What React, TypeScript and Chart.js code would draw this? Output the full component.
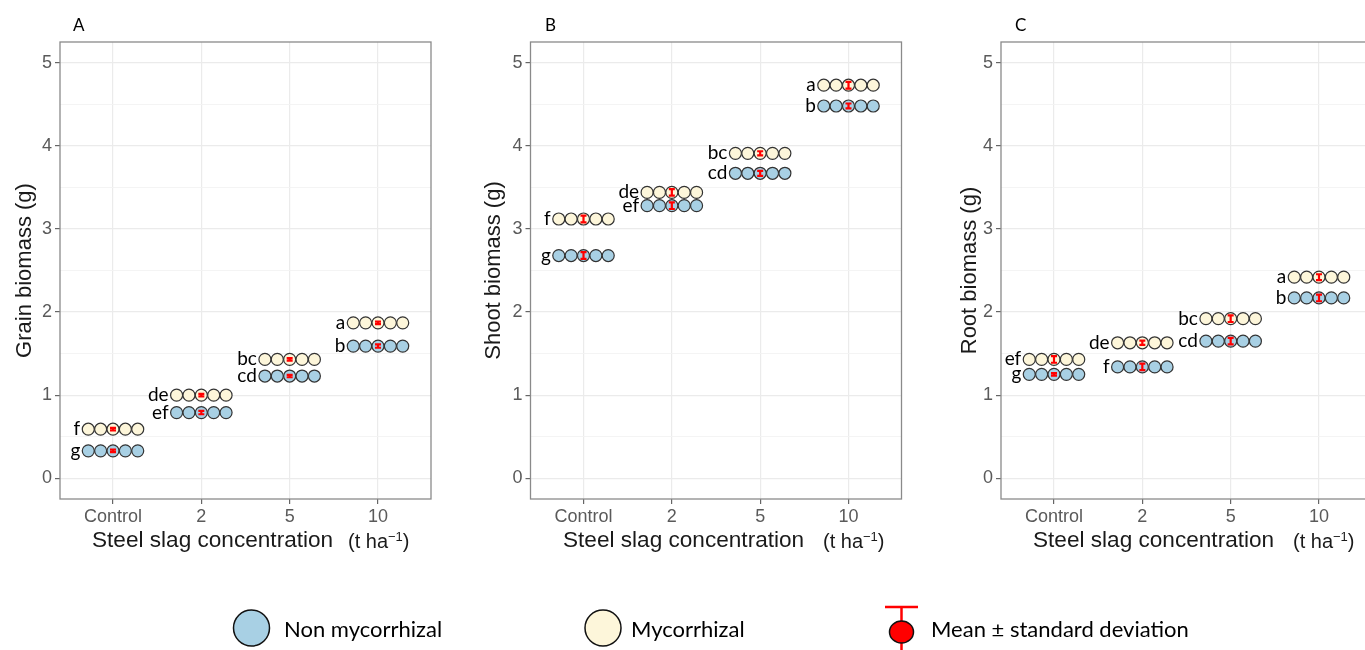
import React, { useEffect, useRef } from "react";
import { Chart, registerables } from "chart.js";

Chart.register(...registerables);

// ---------- data ----------
const categories = ["Control", "2", "5", "10"];
const yTickValues = [0, 0.5, 1, 1.5, 2, 2.5, 3, 3.5, 4, 4.5, 5];
const REPLICATES = 5;

const grainNonMyc = [0.33, 0.79, 1.23, 1.59];
const grainMyc = [0.59, 1.0, 1.43, 1.87];
const grainNonMycSd = [0.015, 0.02, 0.015, 0.02];
const grainMycSd = [0.015, 0.015, 0.015, 0.015];
const grainNonMycLetters = ["g", "ef", "cd", "b"];
const grainMycLetters = ["f", "de", "bc", "a"];

const shootNonMyc = [2.68, 3.28, 3.67, 4.48];
const shootMyc = [3.12, 3.44, 3.91, 4.73];
const shootNonMycSd = [0.04, 0.04, 0.03, 0.03];
const shootMycSd = [0.04, 0.04, 0.025, 0.04];
const shootNonMycLetters = ["g", "ef", "cd", "b"];
const shootMycLetters = ["f", "de", "bc", "a"];

const rootNonMyc = [1.25, 1.34, 1.65, 2.17];
const rootMyc = [1.43, 1.63, 1.92, 2.42];
const rootNonMycSd = [0.015, 0.04, 0.04, 0.04];
const rootMycSd = [0.04, 0.025, 0.04, 0.035];
const rootNonMycLetters = ["g", "f", "cd", "b"];
const rootMycLetters = ["ef", "de", "bc", "a"];

// ---------- style ----------
const BLUE = "#a8d0e4";
const CREAM = "#fdf6da";
const OUTLINE = "#333333";
const RED = "#ff0000";
const TICK_COLOR = "#5a5a5a";
const SANS = "'Liberation Sans', Arial, sans-serif";
const HUMAN = "Lato, 'Open Sans', sans-serif";
const DOT_STEP = 0.14;
const DOT_R = 6;
const CANVAS_H = 530;

const panels = [
  {
    key: "A", yTitle: "Grain biomass (g)",
    nonMyc: grainNonMyc, myc: grainMyc, nonMycSd: grainNonMycSd, mycSd: grainMycSd,
    nonMycLetters: grainNonMycLetters, mycLetters: grainMycLetters,
    canvasLeft: 0, canvasWidth: 465, plotLeft: 60, plotRight: 431, titlePad: 11.8,
    labelLeft: 73, xTitleLeft: 92, unitLeft: 348,
  },
  {
    key: "B", yTitle: "Shoot biomass (g)",
    nonMyc: shootNonMyc, myc: shootMyc, nonMycSd: shootNonMycSd, mycSd: shootMycSd,
    nonMycLetters: shootNonMycLetters, mycLetters: shootMycLetters,
    canvasLeft: 465, canvasWidth: 470, plotLeft: 65.5, plotRight: 436.5, titlePad: 16,
    labelLeft: 545, xTitleLeft: 563, unitLeft: 823,
  },
  {
    key: "C", yTitle: "Root biomass (g)",
    nonMyc: rootNonMyc, myc: rootMyc, nonMycSd: rootNonMycSd, mycSd: rootMycSd,
    nonMycLetters: rootNonMycLetters, mycLetters: rootMycLetters,
    canvasLeft: 935, canvasWidth: 465, plotLeft: 66, plotRight: 437, titlePad: 21.3,
    labelLeft: 1015, xTitleLeft: 1033, unitLeft: 1293,
  },
];

function dots(values: number[]) {
  const out: { x: number; y: number }[] = [];
  values.forEach((v, i) => {
    for (let k = 0; k < REPLICATES; k++) {
      out.push({ x: i + (k - (REPLICATES - 1) / 2) * DOT_STEP, y: v });
    }
  });
  return out;
}

function Panel({ p }: { p: any }) {
  const ref = useRef<HTMLCanvasElement>(null);
  useEffect(() => {
    const overlay = {
      id: "overlay" + p.key,
      afterDatasetsDraw(chart: any) {
        const { ctx, chartArea, scales } = chart;
        const xs = scales.x;
        const ys = scales.y;
        ctx.save();
        // error bars
        const drawErr = (vals: number[], sds: number[]) => {
          vals.forEach((v, i) => {
            const px = xs.getPixelForValue(i);
            const y1 = ys.getPixelForValue(v - sds[i]);
            const y2 = ys.getPixelForValue(v + sds[i]);
            ctx.strokeStyle = RED;
            ctx.lineWidth = 2.2;
            ctx.beginPath();
            ctx.moveTo(px, y1);
            ctx.lineTo(px, y2);
            ctx.moveTo(px - 3, y1);
            ctx.lineTo(px + 3, y1);
            ctx.moveTo(px - 3, y2);
            ctx.lineTo(px + 3, y2);
            ctx.stroke();
          });
        };
        drawErr(p.nonMyc, p.nonMycSd);
        drawErr(p.myc, p.mycSd);
        // letters
        ctx.fillStyle = "#000";
        ctx.font = "19px " + HUMAN;
        ctx.textAlign = "right";
        ctx.textBaseline = "alphabetic";
        const drawLetters = (vals: number[], letters: string[]) => {
          vals.forEach((v, i) => {
            const first = xs.getPixelForValue(i - ((REPLICATES - 1) / 2) * DOT_STEP);
            ctx.fillText(letters[i], first - DOT_R - 2, ys.getPixelForValue(v) + 6);
          });
        };
        drawLetters(p.nonMyc, p.nonMycLetters);
        drawLetters(p.myc, p.mycLetters);
        // panel border
        ctx.strokeStyle = "#8a8a8a";
        ctx.lineWidth = 1.3;
        ctx.strokeRect(chartArea.left, chartArea.top, chartArea.right - chartArea.left, chartArea.bottom - chartArea.top);
        ctx.restore();
      },
    };

    const means = [
      ...p.nonMyc.map((v: number, i: number) => ({ x: i, y: v })),
      ...p.myc.map((v: number, i: number) => ({ x: i, y: v })),
    ];

    const chart = new Chart(ref.current as HTMLCanvasElement, {
      type: "scatter",
      data: {
        datasets: [
          {
            label: "Non mycorrhizal",
            data: dots(p.nonMyc),
            pointRadius: DOT_R,
            pointBackgroundColor: BLUE,
            pointBorderColor: OUTLINE,
            pointBorderWidth: 1.2,
          },
          {
            label: "Mycorrhizal",
            data: dots(p.myc),
            pointRadius: DOT_R,
            pointBackgroundColor: CREAM,
            pointBorderColor: OUTLINE,
            pointBorderWidth: 1.2,
          },
          {
            label: "Mean",
            data: means,
            pointRadius: 4,
            pointBackgroundColor: RED,
            pointBorderWidth: 0,
          },
        ],
      },
      options: {
        responsive: false,
        animation: false,
        devicePixelRatio: 1,
        layout: { padding: { left: 0, top: 42, right: p.canvasWidth - p.plotRight, bottom: 0 } },
        plugins: { legend: { display: false }, tooltip: { enabled: false }, title: { display: false } },
        scales: {
          x: {
            type: "linear",
            min: -0.6,
            max: 3.6,
            afterBuildTicks: (s: any) => {
              s.ticks = categories.map((_, i) => ({ value: i }));
            },
            afterFit: (s: any) => {
              s.height = CANVAS_H - 499;
            },
            ticks: {
              autoSkip: false,
              maxRotation: 0,
              padding: 2,
              color: TICK_COLOR,
              font: { family: SANS, size: 18 },
              callback: (v: any) => categories[v] ?? "",
            },
            grid: { color: "#ebebeb", lineWidth: 1.2, tickLength: 5, tickColor: "#666" },
            border: { display: false },
          },
          y: {
            type: "linear",
            min: -0.25,
            max: 5.25,
            afterBuildTicks: (s: any) => {
              s.ticks = yTickValues.map((v) => ({ value: v }));
            },
            afterFit: (s: any) => {
              s.width = p.plotLeft;
            },
            ticks: {
              padding: 3,
              color: TICK_COLOR,
              font: { family: SANS, size: 18 },
              callback: (v: any) => (Number.isInteger(v) ? String(v) : ""),
            },
            grid: {
              color: (c: any) => (c.tick && Number.isInteger(c.tick.value) ? "#ebebeb" : "#f3f3f3"),
              lineWidth: (c: any) => (c.tick && Number.isInteger(c.tick.value) ? 1.2 : 0.9),
              tickLength: 5,
              tickColor: (c: any) => (c.tick && Number.isInteger(c.tick.value) ? "#666" : "rgba(0,0,0,0)"),
            },
            border: { display: false },
            title: {
              display: true,
              text: p.yTitle,
              color: "#1a1a1a",
              font: { family: SANS, size: 22 },
              padding: { top: p.titlePad, bottom: 0 },
            },
          },
        },
      },
      plugins: [overlay],
    } as any);
    return () => chart.destroy();
  }, []);
  return (
    <canvas
      ref={ref}
      width={p.canvasWidth}
      height={CANVAS_H}
      style={{ position: "absolute", left: p.canvasLeft, top: 0, width: p.canvasWidth, height: CANVAS_H }}
    />
  );
}

export default function App() {
  return (
    <div
      style={{
        position: "absolute",
        left: 0,
        top: 0,
        width: 1365,
        height: 650,
        overflow: "hidden",
        background: "#fff",
      }}
    >
      {panels.map((p) => (
        <Panel key={p.key} p={p} />
      ))}
      {panels.map((p) => (
        <div
          key={"lab" + p.key}
          style={{ position: "absolute", left: p.labelLeft, top: 16, fontFamily: HUMAN, fontSize: 17, lineHeight: "17px", color: "#000" }}
        >
          {p.key}
        </div>
      ))}
      {panels.map((p) => (
        <React.Fragment key={"xt" + p.key}>
          <div
            style={{ position: "absolute", left: p.xTitleLeft, top: 529, fontFamily: SANS, fontSize: 22.6, lineHeight: "22px", color: "#1a1a1a", whiteSpace: "nowrap" }}
          >
            Steel slag concentration
          </div>
          <div
            style={{ position: "absolute", left: p.unitLeft, top: 531, fontFamily: SANS, fontSize: 20, lineHeight: "20px", color: "#1a1a1a", whiteSpace: "nowrap" }}
          >
            (t ha<span style={{ fontSize: 13, position: "relative", top: -7 }}>−1</span>)
          </div>
        </React.Fragment>
      ))}
      {/* legend */}
      <svg width={1365} height={650} style={{ position: "absolute", left: 0, top: 0 }}>
        <circle cx={251.5} cy={628} r={18} fill={BLUE} stroke="#111" strokeWidth={1.5} />
        <circle cx={603} cy={628} r={18} fill={CREAM} stroke="#111" strokeWidth={1.5} />
        <line x1={901.5} y1={607} x2={901.5} y2={650} stroke={RED} strokeWidth={2.5} />
        <line x1={885} y1={607} x2={918} y2={607} stroke={RED} strokeWidth={2.5} />
        <ellipse cx={901.5} cy={632} rx={12} ry={11} fill={RED} stroke="#111" strokeWidth={1.5} />
      </svg>
      {[
        { t: "Non mycorrhizal", l: 284 },
        { t: "Mycorrhizal", l: 631 },
        { t: "Mean ± standard deviation", l: 931 },
      ].map((e) => (
        <div
          key={e.t}
          style={{ position: "absolute", left: e.l, top: 617, fontFamily: HUMAN, fontSize: 22, lineHeight: "24px", color: "#000", whiteSpace: "nowrap" }}
        >
          {e.t}
        </div>
      ))}
    </div>
  );
}
